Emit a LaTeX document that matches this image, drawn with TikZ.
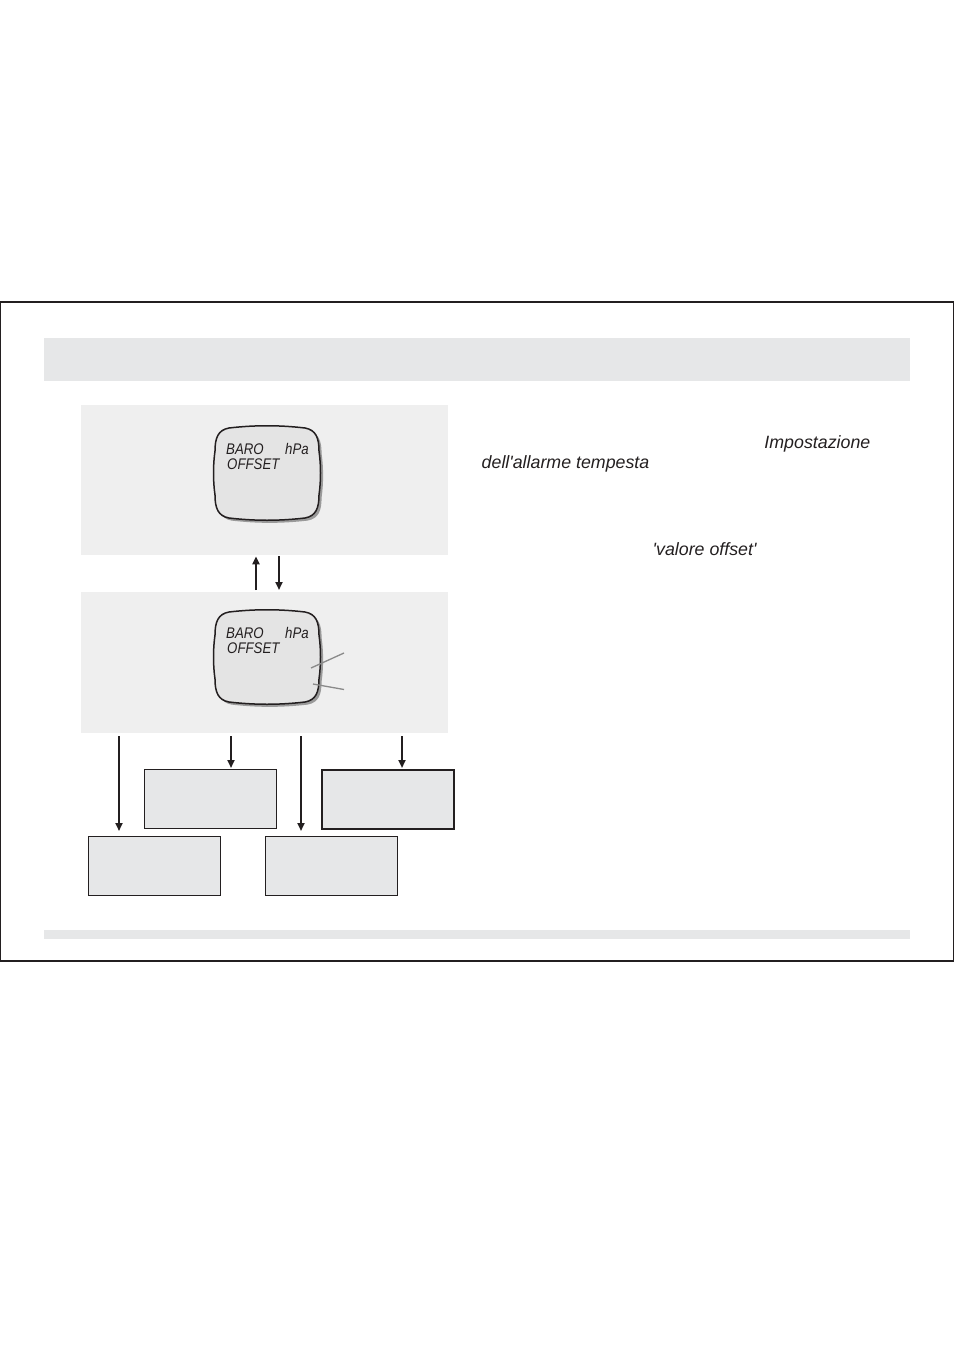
\documentclass[tikz,border=0pt]{standalone}
\usepackage{fontspec}
\setmainfont{Liberation Sans}
\newfontfamily\lcdfont[FakeStretch=0.86]{Liberation Sans}
\usetikzlibrary{arrows.meta,calc}
\definecolor{bargray}{HTML}{E6E7E8}
\definecolor{panelgray}{HTML}{EFEFEF}
\definecolor{lcdgray}{HTML}{E4E4E4}
\definecolor{shadowgray}{HTML}{9A9A9A}
\definecolor{linegray}{HTML}{8A8A8A}
\definecolor{textcol}{HTML}{231F20}
\tikzset{
  panel/.style={fill=panelgray, draw=none, inner sep=0pt, anchor=north west},
  box/.style={fill=bargray, draw=textcol, line width=1.1pt, inner sep=0pt, anchor=north west, minimum width=132pt, minimum height=59pt},
  arr/.style={draw=textcol, line width=2.1pt, -{Triangle[length=8pt,width=7pt]}},
  bodytext/.style={font=\fontsize{17.8}{21}\selectfont\itshape, text=textcol, inner sep=0pt},
  lcdtext/.style={font=\lcdfont\fontsize{15.4}{17}\selectfont\itshape, text=textcol, inner sep=0pt, anchor=base west},
  lcd/.pic={
    \def\lcdpath{(-38,-45) .. controls (-12,-48) and (12,-48) .. (38,-45)
      .. controls (49,-43) and (52,-35) .. (52,-22)
      .. controls (54,-8) and (54,8) .. (52,22)
      .. controls (52,35) and (49,43) .. (38,45)
      .. controls (12,48) and (-12,48) .. (-38,45)
      .. controls (-49,43) and (-52,35) .. (-52,22)
      .. controls (-54,8) and (-54,-8) .. (-52,-22)
      .. controls (-52,-35) and (-49,-43) .. (-38,-45) -- cycle}
    \fill[shadowgray, shift={(2.6,2.6)}] \lcdpath;
    \draw[fill=lcdgray, line width=1.5pt, draw=textcol] \lcdpath;
    \node[lcdtext] (baro) at (-41,-19) {BARO};
    \node[lcdtext] (hpa) at (18,-19) {hPa};
    \node[lcdtext] (off) at (-40,-4) {OFFSET};
  }
}
\begin{document}
\begin{tikzpicture}[x=1pt,y=-1pt]
\useasboundingbox (0,0) rectangle (954,1351);
% frame
\draw[line width=1.3pt, draw=textcol] (0.8,302) rectangle (953.2,961);
% header and footer bars
\node[fill=bargray, inner sep=0pt, anchor=north west, minimum width=866pt, minimum height=43pt] (head) at (44,338) {};
\node[fill=bargray, inner sep=0pt, anchor=north west, minimum width=866pt, minimum height=8.5pt] (foot) at (44,930) {};
% panels
\node[panel, minimum width=367pt, minimum height=150pt] (p1) at (81,405) {};
\node[panel, minimum width=367pt, minimum height=141pt] (p2) at (81,592) {};
% displays
\pic (d1) at (267,473) {lcd};
\pic (d2) at (267,657) {lcd};
% pointer lines on second display
\coordinate (l1a) at (311,668);
\coordinate (l1b) at (344,653);
\coordinate (l2a) at (313,684);
\coordinate (l2b) at (344,689.5);
\draw[linegray, line width=1.3pt] (l1a) -- (l1b);
\draw[linegray, line width=1.3pt] (l2a) -- (l2b);
% boxes
\node[box] (bA) at (143.5,769) {};
\node[box, line width=1.5pt] (bB) at (321,769) {};
\node[box] (bC) at (87.5,836) {};
\node[box] (bD) at (265,836) {};
% arrows between panels
\draw[arr] ($(256,0 |- p2.north)+(0,-2)$) -- ($(256,0 |- p1.south)+(0,1)$);
\draw[arr] ($(279,0 |- p1.south)+(0,1)$) -- ($(279,0 |- p2.north)+(0,-2)$);
% arrows to boxes
\draw[arr] ($(119,0 |- p2.south)+(0,3)$) -- ($(119,0 |- bC.north)+(0,-5)$);
\draw[arr] ($(231,0 |- p2.south)+(0,3)$) -- ($(231,0 |- bA.north)+(0,-1)$);
\draw[arr, line width=2.8pt] ($(301,0 |- p2.south)+(0,3)$) -- ($(301,0 |- bD.north)+(0,-5)$);
\draw[arr] ($(402,0 |- p2.south)+(0,3)$) -- ($(402,0 |- bB.north)+(0,-1)$);
% text
\node[bodytext, anchor=base east] (t1) at (870.5,448.5) {Impostazione};
\node[bodytext, anchor=base west] (t2) at (481.5,468) {dell\textquotesingle allarme tempesta};
\node[bodytext, anchor=base west] (t3) at (652.5,555) {\textquotesingle valore offset\textquotesingle};
\end{tikzpicture}
\end{document}
